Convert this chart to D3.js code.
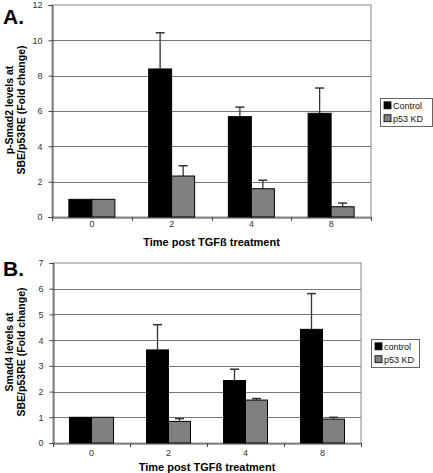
<!DOCTYPE html>
<html><head><meta charset="utf-8">
<script src="https://cdn.jsdelivr.net/npm/d3@7"></script>
<style>body{margin:0;background:#fff}svg{display:block}text{font-family:Arial,"Liberation Sans",sans-serif}</style>
</head><body>
<svg id="c" width="433" height="473"></svg>
<script>
const categories = ["0","2","4","8"];
const seriesA = ["Control","p53 KD"];
const controlA = [1, 8.38, 5.68, 5.87];
const controlAErr = [1, 10.43, 6.22, 7.3];
const kdA = [1, 2.32, 1.6, 0.58];
const kdAErr = [1, 2.9, 2.08, 0.79];
const ticksA = [0,2,4,6,8,10,12];

const seriesB = ["control","p53 KD"];
const controlB = [1, 3.62, 2.43, 4.42];
const controlBErr = [1, 4.6, 2.87, 5.81];
const kdB = [1, 0.84, 1.67, 0.93];
const kdBErr = [1, 0.95, 1.73, 1.0];
const ticksB = [0,1,2,3,4,5,6,7];

const colors = ["#000000","#808080"];
const svg = d3.select("#c");

function panel(cfg){
  const g = svg.append("g");
  const x = d3.scaleBand().domain(categories).range([cfg.x0, cfg.x1]);
  const y = d3.scaleLinear().domain([0, cfg.ymax]).range([cfg.y1, cfg.y0]);
  g.append("rect").attr("x",cfg.x0).attr("y",cfg.y0).attr("width",cfg.x1-cfg.x0).attr("height",cfg.y1-cfg.y0)
    .attr("fill","#fff").attr("stroke","#888").attr("stroke-width",1);
  g.selectAll(".grid").data(cfg.ticks.filter(t=>t>0 && t<cfg.ymax)).enter().append("line")
    .attr("x1",cfg.x0).attr("x2",cfg.x1).attr("y1",d=>Math.round(y(d))+0.5).attr("y2",d=>Math.round(y(d))+0.5)
    .attr("stroke","#777").attr("stroke-width",1);
  const ya = g.append("g").attr("transform",`translate(${cfg.x0+0.5},0)`)
    .call(d3.axisLeft(y).tickValues(cfg.ticks).tickSize(4).tickPadding(6).tickFormat(d3.format("d")));
  ya.select(".domain").attr("stroke","#444");
  ya.selectAll(".tick line").attr("stroke","#444");
  ya.selectAll("text").attr("font-size",9).attr("fill","#333");
  const xa = g.append("g").attr("transform",`translate(0,${cfg.y1+0.5})`)
    .call(d3.axisBottom(x).tickSize(0).tickPadding(cfg.xpad));
  xa.select(".domain").attr("stroke","#444");
  xa.selectAll("text").attr("font-size",9).attr("fill","#333");
  const bounds = categories.map(c=>x(c)).concat([cfg.x1]);
  g.selectAll(".bt").data(bounds).enter().append("line")
    .attr("x1",d=>Math.round(d)+0.5).attr("x2",d=>Math.round(d)+0.5)
    .attr("y1",cfg.y1).attr("y2",cfg.y1+4).attr("stroke","#444");
  const bw = cfg.bw;
  const series = [cfg.vals[0], cfg.vals[1]];
  const errs = [cfg.errs[0], cfg.errs[1]];
  series.forEach((vals,si)=>{
    categories.forEach((c,i)=>{
      const cx = x(c) + x.bandwidth()/2;
      const bx = si===0 ? cx-bw : cx;
      const ex = bx + bw/2;
      if (errs[si][i] > vals[i]+0.02) {
        g.append("line").attr("x1",ex).attr("x2",ex).attr("y1",y(vals[i])).attr("y2",y(errs[si][i]))
          .attr("stroke","#333").attr("stroke-width",1.3);
        g.append("line").attr("x1",ex-4.5).attr("x2",ex+4.5).attr("y1",y(errs[si][i])).attr("y2",y(errs[si][i]))
          .attr("stroke","#333").attr("stroke-width",1.5);
      }
      g.append("rect").attr("x",bx).attr("y",y(vals[i])).attr("width",bw).attr("height",y(0)-y(vals[i]))
        .attr("fill",colors[si]).attr("stroke","#000").attr("stroke-width",1);
    });
  });
  const L = cfg.legend;
  g.append("rect").attr("x",L.x+0.5).attr("y",L.y+0.5).attr("width",L.w).attr("height",L.h)
    .attr("fill","#fff").attr("stroke","#666");
  cfg.names.forEach((n,i)=>{
    const yy = L.y + L.h*(0.28 + 0.46*i);
    g.append("rect").attr("x",L.x+4).attr("y",yy-4).attr("width",7).attr("height",7)
      .attr("fill",colors[i]).attr("stroke","#000").attr("stroke-width",0.8);
    g.append("text").attr("x",L.x+13).attr("y",yy+3).attr("font-size",9).attr("fill","#111").text(n);
  });
  const yl = g.append("text").attr("transform",`translate(${cfg.ylx},${cfg.yly}) rotate(-90)`)
    .attr("text-anchor","middle").attr("font-size",10.5).attr("font-weight","bold");
  yl.append("tspan").attr("x",0).attr("y",0).text(cfg.ylab[0]);
  yl.append("tspan").attr("x",0).attr("y",12).text(cfg.ylab[1]);
  g.append("text").attr("x",(cfg.x0+cfg.x1)/2).attr("y",cfg.xly).attr("text-anchor","middle")
    .attr("font-size",11).attr("font-weight","bold").text("Time post TGFß treatment");
  g.append("text").attr("x",3).attr("y",cfg.ly).attr("font-size",21).attr("font-weight","bold").text(cfg.letter);
}

panel({x0:52,x1:371,y0:5,y1:217,ymax:12,ticks:ticksA,bw:23,xpad:3,
  vals:[controlA,kdA],errs:[controlAErr,kdAErr],names:seriesA,
  legend:{x:380,y:98,w:52,h:28},ylab:["p-Smad2 levels at","SBE/p53RE (Fold change)"],ylx:13,yly:110,xly:246,
  letter:"A.",ly:24});
panel({x0:53,x1:361,y0:263,y1:443,ymax:7,ticks:ticksB,bw:22,xpad:6,
  vals:[controlB,kdB],errs:[controlBErr,kdBErr],names:seriesB,
  legend:{x:371,y:339,w:48,h:28},ylab:["Smad4 levels at","SBE/p53RE (Fold change)"],ylx:13,yly:352,xly:471,
  letter:"B.",ly:276});
</script>
</body></html>
